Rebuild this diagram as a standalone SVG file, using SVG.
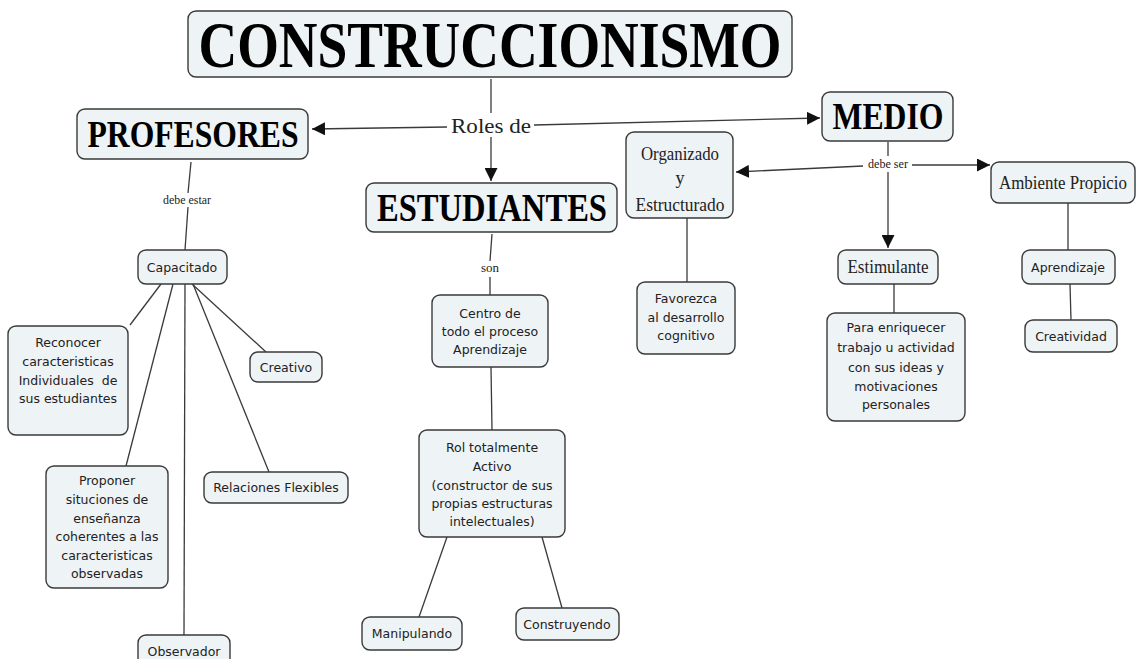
<svg xmlns="http://www.w3.org/2000/svg" width="1137" height="659" viewBox="0 0 1137 659">
<style>
.box{fill:#eef3f5;stroke:#3a3a3a;stroke-width:1.4}
.hd{font-family:"Liberation Serif",serif;font-weight:bold;fill:#000;text-anchor:middle}
.sr{font-family:"Liberation Serif",serif;fill:#222;text-anchor:middle}
.ss{font-family:"DejaVu Sans",sans-serif;font-size:12.5px;fill:#222;text-anchor:middle}
.ln{stroke:#3a3a3a;stroke-width:1.3;fill:none}
.ar{marker-end:url(#ah)}
</style>
<defs>
<marker id="ah" markerUnits="userSpaceOnUse" markerWidth="13" markerHeight="13" refX="13" refY="6.5" orient="auto">
<path d="M0,0 L13,6.5 L0,13 z" fill="#111"/>
</marker>
</defs>
<rect width="1137" height="659" fill="#fff"/>
<g id="connectors">
<line class="ln" x1="491" y1="79" x2="491" y2="113"/>
<line class="ln ar" x1="447" y1="127" x2="312" y2="129"/>
<line class="ln ar" x1="534" y1="125" x2="820" y2="118"/>
<line class="ln ar" x1="491" y1="137" x2="491" y2="181"/>
<line class="ln" x1="191" y1="162" x2="188" y2="193"/>
<line class="ln" x1="188" y1="207" x2="185" y2="250"/>
<line class="ln" x1="492" y1="234" x2="490" y2="261"/>
<line class="ln" x1="490" y1="277" x2="490" y2="295"/>
<line class="ln" x1="491" y1="367" x2="492" y2="430"/>
<line class="ln" x1="447" y1="537" x2="419" y2="617"/>
<line class="ln" x1="542" y1="537" x2="562" y2="608"/>
<line class="ln" x1="161" y1="284" x2="130" y2="325"/>
<line class="ln" x1="192" y1="284" x2="266" y2="352"/>
<line class="ln" x1="173" y1="284" x2="126" y2="466"/>
<line class="ln" x1="193" y1="284" x2="269" y2="472"/>
<line class="ln" x1="185" y1="284" x2="184" y2="635"/>
<line class="ln" x1="888" y1="142" x2="888" y2="156"/>
<line class="ln ar" x1="863" y1="166" x2="736" y2="172"/>
<line class="ln ar" x1="912" y1="165" x2="990" y2="165"/>
<line class="ln ar" x1="888" y1="172" x2="888" y2="248"/>
<line class="ln" x1="687" y1="218" x2="687" y2="282"/>
<line class="ln" x1="894" y1="284" x2="894" y2="313"/>
<line class="ln" x1="1068" y1="203" x2="1068" y2="250"/>
<line class="ln" x1="1070" y1="284" x2="1071" y2="320"/>
<text class="sr" x="491" y="133" font-size="22" textLength="80" lengthAdjust="spacingAndGlyphs">Roles de</text>
<text class="sr" x="187" y="204" font-size="12" textLength="48" lengthAdjust="spacingAndGlyphs">debe estar</text>
<text class="sr" x="490" y="272" font-size="12" textLength="18" lengthAdjust="spacingAndGlyphs">son</text>
<text class="sr" x="888" y="168" font-size="12" textLength="40" lengthAdjust="spacingAndGlyphs">debe ser</text>
</g>
<g id="n-title">
<rect class="box" x="188" y="11" width="604" height="66" rx="8"/>
<text class="hd" x="490" y="67" font-size="66" textLength="583" lengthAdjust="spacingAndGlyphs">CONSTRUCCIONISMO</text>
</g>
<g id="n-profesores">
<rect class="box" x="77" y="109" width="231" height="50" rx="8"/>
<text class="hd" x="193" y="147" font-size="38" textLength="211" lengthAdjust="spacingAndGlyphs">PROFESORES</text>
</g>
<g id="n-estudiantes">
<rect class="box" x="366" y="183" width="251" height="49" rx="8"/>
<text class="hd" x="492" y="221" font-size="39" textLength="230" lengthAdjust="spacingAndGlyphs">ESTUDIANTES</text>
</g>
<g id="n-medio">
<rect class="box" x="822" y="92" width="131" height="49" rx="8"/>
<text class="hd" x="888" y="129" font-size="38" textLength="111" lengthAdjust="spacingAndGlyphs">MEDIO</text>
</g>
<g id="n-capacitado">
<rect class="box" x="138" y="250" width="89" height="34" rx="8"/>
<text class="ss" x="182" y="272">Capacitado</text>
</g>
<g id="n-reconocer">
<rect class="box" x="8" y="326" width="120" height="109" rx="8"/>
<text class="ss" x="68" y="347">Reconocer</text>
<text class="ss" x="68" y="366">caracteristicas</text>
<text class="ss" x="68" y="385" style="white-space:pre">Individuales  de</text>
<text class="ss" x="68" y="403">sus estudiantes</text>
</g>
<g id="n-creativo">
<rect class="box" x="250" y="352" width="72" height="30" rx="8"/>
<text class="ss" x="286" y="372">Creativo</text>
</g>
<g id="n-proponer">
<rect class="box" x="46" y="466" width="122" height="122" rx="8"/>
<text class="ss" x="107" y="485">Proponer</text>
<text class="ss" x="107" y="504">situciones de</text>
<text class="ss" x="107" y="523">enseñanza</text>
<text class="ss" x="107" y="541">coherentes a las</text>
<text class="ss" x="107" y="560">caracteristicas</text>
<text class="ss" x="107" y="578">observadas</text>
</g>
<g id="n-relaciones">
<rect class="box" x="204" y="472" width="144" height="31" rx="8"/>
<text class="ss" x="276" y="492">Relaciones Flexibles</text>
</g>
<g id="n-observador">
<rect class="box" x="138" y="635" width="92" height="34" rx="8"/>
<text class="ss" x="184" y="656">Observador</text>
</g>
<g id="n-centro">
<rect class="box" x="432" y="295" width="116" height="72" rx="8"/>
<text class="ss" x="490" y="318">Centro de</text>
<text class="ss" x="490" y="336">todo el proceso</text>
<text class="ss" x="490" y="354">Aprendizaje</text>
</g>
<g id="n-rol">
<rect class="box" x="419" y="430" width="146" height="107" rx="8"/>
<text class="ss" x="492" y="452">Rol totalmente</text>
<text class="ss" x="492" y="471">Activo</text>
<text class="ss" x="492" y="490">(constructor de sus</text>
<text class="ss" x="492" y="508">propias estructuras</text>
<text class="ss" x="492" y="526">intelectuales)</text>
</g>
<g id="n-manipulando">
<rect class="box" x="362" y="617" width="100" height="33" rx="8"/>
<text class="ss" x="412" y="638">Manipulando</text>
</g>
<g id="n-construyendo">
<rect class="box" x="516" y="608" width="103" height="32" rx="8"/>
<text class="ss" x="567" y="629">Construyendo</text>
</g>
<g id="n-organizado">
<rect class="box" x="626" y="132" width="107" height="86" rx="8"/>
<text class="sr" x="680" y="160" font-size="18" textLength="78" lengthAdjust="spacingAndGlyphs">Organizado</text>
<text class="sr" x="680" y="184" font-size="18">y</text>
<text class="sr" x="680" y="211" font-size="18" textLength="89" lengthAdjust="spacingAndGlyphs">Estructurado</text>
</g>
<g id="n-favorezca">
<rect class="box" x="637" y="282" width="98" height="72" rx="8"/>
<text class="ss" x="686" y="303">Favorezca</text>
<text class="ss" x="686" y="322">al desarrollo</text>
<text class="ss" x="686" y="340">cognitivo</text>
</g>
<g id="n-estimulante">
<rect class="box" x="838" y="250" width="100" height="34" rx="8"/>
<text class="sr" x="888" y="273" font-size="19" textLength="81" lengthAdjust="spacingAndGlyphs">Estimulante</text>
</g>
<g id="n-para">
<rect class="box" x="827" y="313" width="138" height="108" rx="8"/>
<text class="ss" x="896" y="332">Para enriquecer</text>
<text class="ss" x="896" y="352">trabajo u actividad</text>
<text class="ss" x="896" y="372">con sus ideas y</text>
<text class="ss" x="896" y="391">motivaciones</text>
<text class="ss" x="896" y="409">personales</text>
</g>
<g id="n-ambiente">
<rect class="box" x="991" y="162" width="144" height="41" rx="8"/>
<text class="sr" x="1063" y="189" font-size="19" textLength="128" lengthAdjust="spacingAndGlyphs">Ambiente Propicio</text>
</g>
<g id="n-aprendizaje">
<rect class="box" x="1022" y="250" width="93" height="34" rx="8"/>
<text class="ss" x="1068" y="272">Aprendizaje</text>
</g>
<g id="n-creatividad">
<rect class="box" x="1025" y="320" width="92" height="32" rx="8"/>
<text class="ss" x="1071" y="341">Creatividad</text>
</g>
</svg>
